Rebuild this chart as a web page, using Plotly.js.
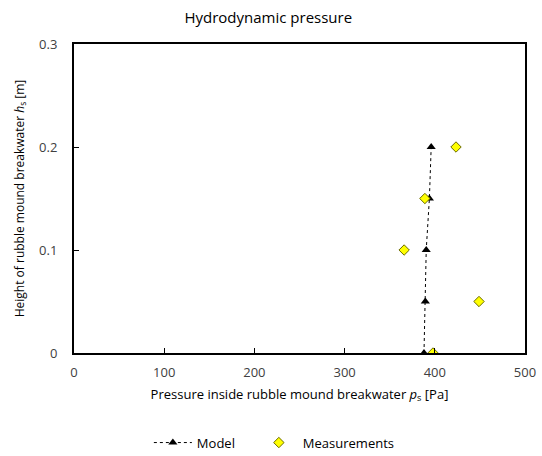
<!DOCTYPE html>
<html>
<head>
<meta charset="utf-8">
<script src="https://cdn.plot.ly/plotly-3.0.1.min.js"></script>
<style>html,body{margin:0;padding:0;background:#fff;}#chart{width:542px;height:456px;}</style>
</head>
<body>
<div id="chart"></div>
<script>
const heights = [0, 0.05, 0.1, 0.15, 0.2];
const modelPressure = [388, 389.5, 390.5, 394, 396];
const measuredPressure = [398, 449, 366, 389, 423.5];
const xTicks = [0, 100, 200, 300, 400, 500];
const yTicks = [0, 0.1, 0.2, 0.3];

const font = "Open Sans, Noto Sans, sans-serif";

const traces = [
  {
    x: modelPressure, y: heights, name: 'Model', type: 'scatter', mode: 'lines+markers',
    legend: 'legend',
    line: {color: '#000000', width: 1, dash: 'dot'},
    marker: {symbol: 'triangle-up', size: 8, color: '#000000'}
  },
  {
    x: measuredPressure, y: heights, name: 'Measurements', type: 'scatter', mode: 'markers',
    legend: 'legend2',
    marker: {symbol: 'diamond', size: 8, color: '#FFFF00', line: {color: '#6b6b00', width: 1}}
  }
];

const legendBase = {orientation: 'h', xanchor: 'left', y: -0.29, yanchor: 'middle', itemwidth: 38,
                    font: {family: font, size: 13, color: '#000000'}, bgcolor: 'rgba(0,0,0,0)'};

const layout = {
  width: 542, height: 456,
  margin: {l: 74, r: 17, t: 44, b: 103, autoexpand: false},
  paper_bgcolor: '#ffffff', plot_bgcolor: '#ffffff',
  font: {family: font, size: 13, color: '#404040'},
  title: {text: 'Hydrodynamic pressure', x: 0.495, xanchor: 'center', y: 0.96, yanchor: 'middle',
          font: {family: font, size: 15, color: '#000000'}},
  xaxis: {
    range: [0, 500], tickvals: xTicks, ticktext: xTicks.map(String), automargin: false,
    showgrid: false, zeroline: false, showline: true, linecolor: '#000000', linewidth: 2, mirror: true,
    ticks: 'inside', ticklen: 5, tickcolor: '#000000', tickwidth: 1,
    tickfont: {family: font, size: 13, color: '#404040'},
    ticklabelstandoff: 6,
    title: {text: 'Pressure inside rubble mound breakwater <i>p</i><sub>s</sub> [Pa]', standoff: 10,
            font: {family: font, size: 13, color: '#000000'}}
  },
  yaxis: {
    range: [0, 0.3], tickvals: yTicks, ticktext: ['0', '0.1', '0.2', '0.3'], automargin: false,
    showgrid: false, zeroline: false, showline: true, linecolor: '#000000', linewidth: 2, mirror: true,
    ticks: 'inside', ticklen: 5, tickcolor: '#000000', tickwidth: 1,
    tickfont: {family: font, size: 13, color: '#404040'},
    ticklabelstandoff: 12,
    title: {text: 'Height of rubble mound breakwater <i>h</i><sub>s</sub> [m]', standoff: 12,
            font: {family: font, size: 12, color: '#000000'}}
  },
  showlegend: true,
  legend: Object.assign({}, legendBase, {x: 0.166}),
  legend2: Object.assign({}, legendBase, {x: 0.401})
};

Plotly.newPlot('chart', traces, layout, {displayModeBar: false, staticPlot: true});
</script>
</body>
</html>
